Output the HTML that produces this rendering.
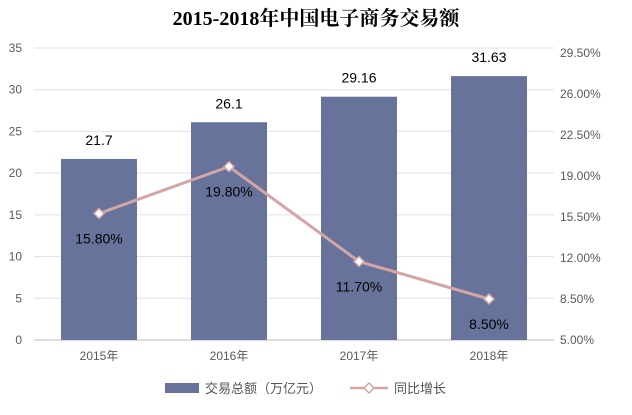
<!DOCTYPE html>
<html><head><meta charset="utf-8"><style>
body{margin:0;background:#fff;}
svg text{font-family:"Liberation Sans","Noto Sans CJK SC",sans-serif;}
</style></head><body>
<svg id="c" width="632" height="410" xmlns="http://www.w3.org/2000/svg">
<text x="316" y="25" text-anchor="middle" font-size="20" font-weight="bold" fill="#000" style="font-family:'Liberation Serif','Noto Serif CJK SC',serif">2015-2018年中国电子商务交易额</text>
<g id="grid"></g><g id="bars"></g><g id="line"></g><g id="labels"></g>
<g>
<rect x="165" y="383" width="34" height="10" fill="#67739a"/>
<text x="205" y="393" font-size="13" fill="#555">交易总额（万亿元）</text>
<line x1="350" y1="388" x2="388" y2="388" stroke="#d4a5a5" stroke-width="2.5"/>
<polygon points="369,383 374,388 369,393 364,388" fill="#fff" stroke="#d4a5a5" stroke-width="1.5"/>
<text x="394" y="393" font-size="13" fill="#555">同比增长</text>
</g>
</svg>
<script>
const categories=["2015年","2016年","2017年","2018年"];
const totals=[21.7,26.1,29.16,31.63];
const growth=[15.8,19.8,11.7,8.5];
const leftTicks=[0,5,10,15,20,25,30,35];
const rightTicks=[5,8.5,12,15.5,19,22.5,26,29.5];
const NS="http://www.w3.org/2000/svg";
const x0=34,x1=554,yB=340,yT=48;
const yL=v=>yB-(v/35)*(yB-yT);
const yR=v=>yB-((v-5)/24.5)*(yB-53);
const band=(x1-x0)/categories.length;
const xc=i=>x0+band*(i+0.5);
function mk(tag,attrs,parent,txt){const e=document.createElementNS(NS,tag);for(const k in attrs)e.setAttribute(k,attrs[k]);if(txt!==undefined)e.textContent=txt;document.getElementById(parent).appendChild(e);return e;}
leftTicks.forEach(t=>{
 const l=mk('line',{x1:x0,x2:x1,y1:yL(t),y2:yL(t),stroke:t===0?'#bbb':'#e0e0e0','stroke-width':1},'grid');
 
 
 const tx=mk('text',{x:22,y:yL(t)+4,'text-anchor':'end','font-size':12,fill:'#595959'},'grid',t);
 
 
});
rightTicks.forEach(t=>{
 const tx=mk('text',{x:560,y:yR(t)+4,'font-size':12,fill:'#595959'},'grid',t.toFixed(2)+'%');
 
 
});
categories.forEach((c,i)=>{
 const tx=mk('text',{x:xc(i),y:360,'text-anchor':'middle','font-size':12,fill:'#595959'},'grid',c);
 
 
 const w=76;
 const r=mk('rect',{x:xc(i)-w/2,y:yL(totals[i]),width:w,height:yB-yL(totals[i]),fill:'#67739a'},'bars');
 
 
 const bl=mk('text',{x:xc(i),y:yL(totals[i])-14,'text-anchor':'middle','font-size':14,fill:'#000'},'labels',totals[i]);
 
 
});
const pts=growth.map((g,i)=>xc(i)+','+yR(g)).join(' ');
const pl=mk('polyline',{points:pts,fill:'none',stroke:'#d4a5a5','stroke-width':3},'line');


growth.forEach((g,i)=>{
 const x=xc(i),y=yR(g);
 const m=mk('polygon',{points:`${x},${y-5} ${x+5},${y} ${x},${y+5} ${x-5},${y}`,fill:'#fff',stroke:'#d4a5a5','stroke-width':1.5},'line');
 
 
 const t=mk('text',{x:x,y:y+30,'text-anchor':'middle','font-size':14,fill:'#000'},'labels',g.toFixed(2)+'%');
 
 
});
</script>
</body></html>
